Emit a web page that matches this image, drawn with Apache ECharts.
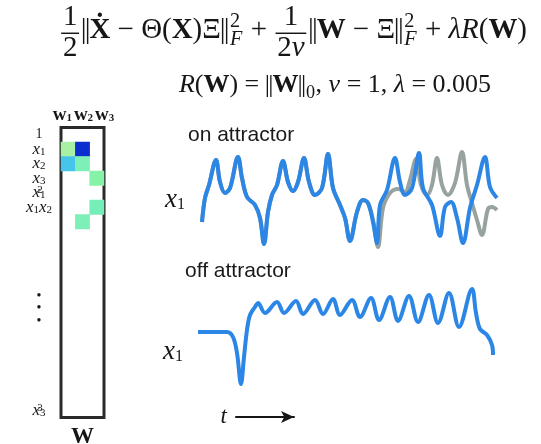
<!DOCTYPE html>
<html><head><meta charset="utf-8">
<script src="https://cdn.jsdelivr.net/npm/echarts@6/dist/echarts.min.js"></script>
<style>html,body{margin:0;padding:0;background:#fff}#c{width:541px;height:444px}</style>
</head><body><div id="c"></div>
<script>
// ---------- data ----------
const terms = ['1','x1','x2','x3','x1^2','x1x2','x1x3','x2^2','x2x3','x3^2','x1^3','x1^2x2','x1^2x3','x1x2^2','x1x2x3','x1x3^2','x2^3','x2^2x3','x2x3^2','x3^3'];
const rowTickLabels = ['1','x1','x2','x3','x1^2','x1x2','','','','','','','dots','','','','','','','x3^3'];
const eqNames = ['w1','w2','w3'];
const coefTerms = ['x1','x2','x1','x2','x1x3','x3','x1x2'];
const coefEqs   = ['w1','w1','w2','w2','w2','w3','w3'];
const coefVals  = [-10, 10, 28, -1, -1, -2.667, 1];

const onT    = [7,10,14,21,25,30,35,43,47,52,60,65,69,73,77,82,88,93,98,103,109,114,120,127,133,138,145,150,155,162,168,173,178,182,185,192,200,205,210,217,224,228,237,245,250,256,262,268,275,282,290,295,302];
const onBlue = [33,57,70,95,73,62,67,98,77,58,50,37,11,43,60,70,94,73,64,73,97,73,60,67,101,67,50,37,14,43,55,52,33,12,50,65,97,73,60,67,102,67,50,19,48,53,37,12,47,70,98,68,57];
const onGrayT = [7,10,14,21,25,30,35,43,47,52,60,65,69,73,77,82,88,93,98,103,109,114,120,127,133,138,145,150,155,162,168,173,178,183,188,195,203,210,215,221,226,232,237,242,247,253,260,267,272,277,282,287,293,297,302];
const onGray  = [33,57,70,95,73,62,67,98,77,58,50,37,11,43,60,70,94,73,64,73,97,73,60,67,101,67,50,37,14,43,55,52,35,8,47,62,66,63,75,96,70,60,70,97,70,60,72,103,70,52,35,20,46,48,45];
const offT    = [3,32,38,42,46,49,52,55,60,63,70,82,89,101,108,120,128,138,145,157,165,176,184,195,203,214,223,234,243,254,264,277,281,285,292,297,298];
const offBlue = [85,85,80,64,33,60,87,102,110,114,104,115,104,116,103,117,103,118,102,117,100,119,97,120,96,121,95,122,94,124,90,128,104,88,82,72,62];

// ---------- helpers ----------
const serif = '"Liberation Serif", "DejaVu Serif", serif';
const sans = '"Liberation Sans", Arial, sans-serif';
const INK = '#161616';
const mctx = document.createElement('canvas').getContext('2d');
function fnt(sz,i,b){return (i?'italic ':'')+(b?'bold ':'')+sz.toFixed(2)+'px '+serif;}
function mw(s,sz,i,b){mctx.font=fnt(sz,i,b);return mctx.measureText(s).width;}
const T=(s,o)=>({k:'t',s,i:!!(o&&o.i),b:!!(o&&o.b)});
const N=()=>({k:'nm'});
const FR=(num,den)=>({k:'fr',num,den});
const SS=(sup,sub)=>({k:'ss',sup,sub});
const SB=(s)=>({k:'sb',s});
function lay(items,fs){
  let x=0; const ops=[];
  for(const it of items){
    if(it.k==='t'){ops.push({t:it.s,x,dy:0,sz:fs,i:it.i,b:it.b}); x+=mw(it.s,fs,it.i,it.b);}
    else if(it.k==='nm'){
      const pw=mw('|',fs);
      ops.push({t:'|',x:x-0.04*fs,dy:0,sz:fs}); ops.push({t:'|',x:x+0.1*fs,dy:0,sz:fs});
      x+=pw+0.06*fs;
    }
    else if(it.k==='fr'){
      const n=lay(it.num,fs), d=lay(it.den,fs), pad=0.1*fs, w=Math.max(n.w,d.w)+2*pad;
      n.ops.forEach(o=>ops.push(Object.assign({},o,{x:x+(w-n.w)/2+o.x,dy:o.dy-0.47*fs})));
      d.ops.forEach(o=>ops.push(Object.assign({},o,{x:x+(w-d.w)/2+o.x,dy:o.dy+0.63*fs})));
      ops.push({bar:true,x:x+0.04*fs,w:w-0.08*fs,dy:-0.25*fs,h:Math.max(1,0.05*fs)});
      x+=w+0.06*fs;
    } else if(it.k==='ss'){
      const s=0.7*fs, x0=x+0.06*fs;
      ops.push({t:it.sup,x:x0,dy:-0.42*fs,sz:s});
      ops.push({t:it.sub,x:x0,dy:0.22*fs,sz:s,i:true});
      x=x0+Math.max(mw(it.sup,s),mw(it.sub,s,true))+0.04*fs;
    } else if(it.k==='sb'){
      const s=0.7*fs; ops.push({t:it.s,x:x+0.03*fs,dy:0.2*fs,sz:s}); x+=mw(it.s,s)+0.05*fs;
    }
  }
  return {ops,w:x};
}
function formulaEls(items,left,right,base){
  const w20=lay(items,20).w; const fs=20*(right-left)/w20;
  const L=lay(items,fs); const els=[];
  L.ops.forEach(o=>{
    if(o.bar) els.push({type:'rect',silent:true,shape:{x:left+o.x,y:base+o.dy-o.h/2,width:o.w,height:o.h},style:{fill:INK}});
    else els.push({type:'text',silent:true,x:left+o.x,y:base+o.dy-0.34*o.sz,
      style:{text:o.t,font:fnt(o.sz,o.i,o.b),fill:INK,align:'left',verticalAlign:'middle',textAlign:'left',textVerticalAlign:'middle'}});
  });
  return els;
}
const line1 = [FR([T('1')],[T('2')]), N(), T('X\u0307',{b:1}), T(' − '), T('Θ('), T('X',{b:1}), T(')Ξ'), N(), SS('2','F'), T(' + '),
  FR([T('1')],[T('2'),T('ν',{i:1})]), N(), T('W',{b:1}), T(' − Ξ'), N(), SS('2','F'), T(' + '), T('λR',{i:1}), T('('), T('W',{b:1}), T(')')];
const line2 = [T('R',{i:1}), T('('), T('W',{b:1}), T(') = '), N(), T('W',{b:1}), N(), SB('0'), T(', '), T('ν',{i:1}), T(' = 1, '), T('λ',{i:1}), T(' = 0.005')];

function termRich(lbl){
  if(!lbl) return '';
  if(lbl==='1') return '{n|1}';
  if(lbl==='dots') return '{d|•}\n{d|•}\n{d|•}';
  let out='';
  lbl.replace(/x(\d)(\^(\d))?/g,(m,a,b,c)=>{ out+='{x|x}'+(c?'{z|'+c+'}':'')+'{s|'+a+'}'; return m;});
  return out;
}

const heatData = coefVals.map((v,i)=>[eqNames.indexOf(coefEqs[i]), terms.indexOf(coefTerms[i]), v]);

const hid = {axisLine:{show:false},axisTick:{show:false},axisLabel:{show:false},splitLine:{show:false}};
const xRich = {x:{fontFamily:serif,fontStyle:'italic',fontSize:27,lineHeight:26,color:INK},
               s:{fontFamily:serif,fontSize:16,lineHeight:14,verticalAlign:'bottom',color:INK}};

const chart = echarts.init(document.getElementById('c'), null, {renderer:'canvas'});
chart.setOption({
  animation:false,
  backgroundColor:'#fff',
  title:[
    {text:'on attractor', left:188, top:123, padding:0, textStyle:{fontFamily:sans,fontSize:21,fontWeight:'normal',color:'#1a1a1a',lineHeight:24}},
    {text:'off attractor', left:185, top:259, padding:0, textStyle:{fontFamily:sans,fontSize:21,fontWeight:'normal',color:'#1a1a1a',lineHeight:24}}
  ],
  grid:[
    {left:61, top:127.5, width:43, height:290, show:true, borderColor:'#2a2a2a', borderWidth:3, backgroundColor:'transparent', outerBoundsMode:'none', containLabel:false},
    {left:195, top:145, width:305, height:110, outerBoundsMode:'none', containLabel:false},
    {left:195, top:287, width:305, height:130, outerBoundsMode:'none', containLabel:false},
    {left:236, top:416, width:58, height:1, outerBoundsMode:'none', containLabel:false}
  ],
  xAxis:[
    Object.assign({type:'category', gridIndex:0, data:eqNames, position:'top',
      name:'{w|w}{s|1}{w|w}{s|2}{w|w}{s|3}', nameLocation:'middle', nameGap:4,
      nameTextStyle:{padding:[0,0,0,4],rich:{w:{fontFamily:serif,fontWeight:'bold',fontSize:19,lineHeight:17,color:INK},
                           s:{fontFamily:serif,fontWeight:'bold',fontSize:11,lineHeight:10,verticalAlign:'bottom',padding:[0,2,0,0],color:INK}}}},hid),
    Object.assign({type:'category', gridIndex:0, data:eqNames, position:'bottom',
      name:'W', nameLocation:'middle', nameGap:8,
      nameTextStyle:{fontFamily:serif,fontWeight:'bold',fontSize:23,color:INK}},hid),
    Object.assign({type:'value', gridIndex:1, min:0, max:305, show:false},hid),
    Object.assign({type:'value', gridIndex:2, min:0, max:305, show:false},hid),
    {type:'value', gridIndex:3, min:0, max:1, position:'bottom',
      axisLine:{show:true, symbol:['none','arrow'], symbolSize:[9,13], lineStyle:{color:INK,width:2}},
      axisTick:{show:false}, axisLabel:{show:false}, splitLine:{show:false},
      name:'t', nameLocation:'start', nameGap:9,
      nameTextStyle:{fontFamily:serif,fontStyle:'italic',fontSize:23,color:INK}}
  ],
  yAxis:[
    {type:'category', gridIndex:0, data:terms, inverse:true,
      axisLine:{show:false}, axisTick:{show:false}, splitLine:{show:false},
      axisLabel:{interval:0, align:'center', margin:22, formatter:(v,idx)=>termRich(rowTickLabels[idx]),
        rich:{
          n:{fontFamily:serif,fontSize:14,lineHeight:16,color:INK},
          x:{fontFamily:serif,fontStyle:'italic',fontSize:17,lineHeight:16,color:INK},
          s:{fontFamily:serif,fontSize:11,lineHeight:9,verticalAlign:'bottom',color:INK},
          z:{fontFamily:serif,fontSize:11,lineHeight:9,verticalAlign:'top',width:0.01,color:INK},
          d:{fontFamily:serif,fontSize:14,lineHeight:12.7,color:INK}
        }}},
    Object.assign({type:'value', gridIndex:1, min:0, max:110,
      name:'{x|x}{s|1}', nameLocation:'middle', nameRotate:0, nameGap:10,
      nameTextStyle:{rich:xRich}},hid),
    Object.assign({type:'value', gridIndex:2, min:0, max:130,
      name:'{x|x}{s|1}', nameLocation:'middle', nameRotate:0, nameGap:12,
      nameTextStyle:{rich:xRich}},hid),
    {type:'value', gridIndex:3, show:false, min:0, max:1}
  ],
  visualMap:{type:'piecewise', show:false, seriesIndex:0, dimension:2,
    pieces:[{lt:-5,color:'#a8f0a4'},{gte:-5,lt:-2,color:'#86f2a8'},{gte:-2,lt:0,color:'#7cf0b6'},
            {gte:0,lt:5,color:'#76eeb8'},{gte:5,lt:20,color:'#46c4ea'},{gte:20,color:'#0b2fcf'}]},
  series:[
    {type:'heatmap', xAxisIndex:0, yAxisIndex:0, data:heatData, itemStyle:{borderWidth:0}},
    {type:'line', xAxisIndex:2, yAxisIndex:1, data:onGrayT.map((t,i)=>[t,onGray[i]]), showSymbol:false, smooth:0.35,
      lineStyle:{color:'#98a29e',width:4}, z:2},
    {type:'line', xAxisIndex:2, yAxisIndex:1, data:onT.map((t,i)=>[t,onBlue[i]]), showSymbol:false, smooth:0.35,
      lineStyle:{color:'#2b86e5',width:4}, z:3},
    {type:'line', xAxisIndex:3, yAxisIndex:2, data:offT.map((t,i)=>[t,offBlue[i]]), showSymbol:false, smooth:0.35,
      lineStyle:{color:'#2b86e5',width:4}, z:3}
  ],
  graphic: formulaEls(line1, 60, 527, 40.5).concat(formulaEls(line2, 179, 491, 94))
});
</script></body></html>
